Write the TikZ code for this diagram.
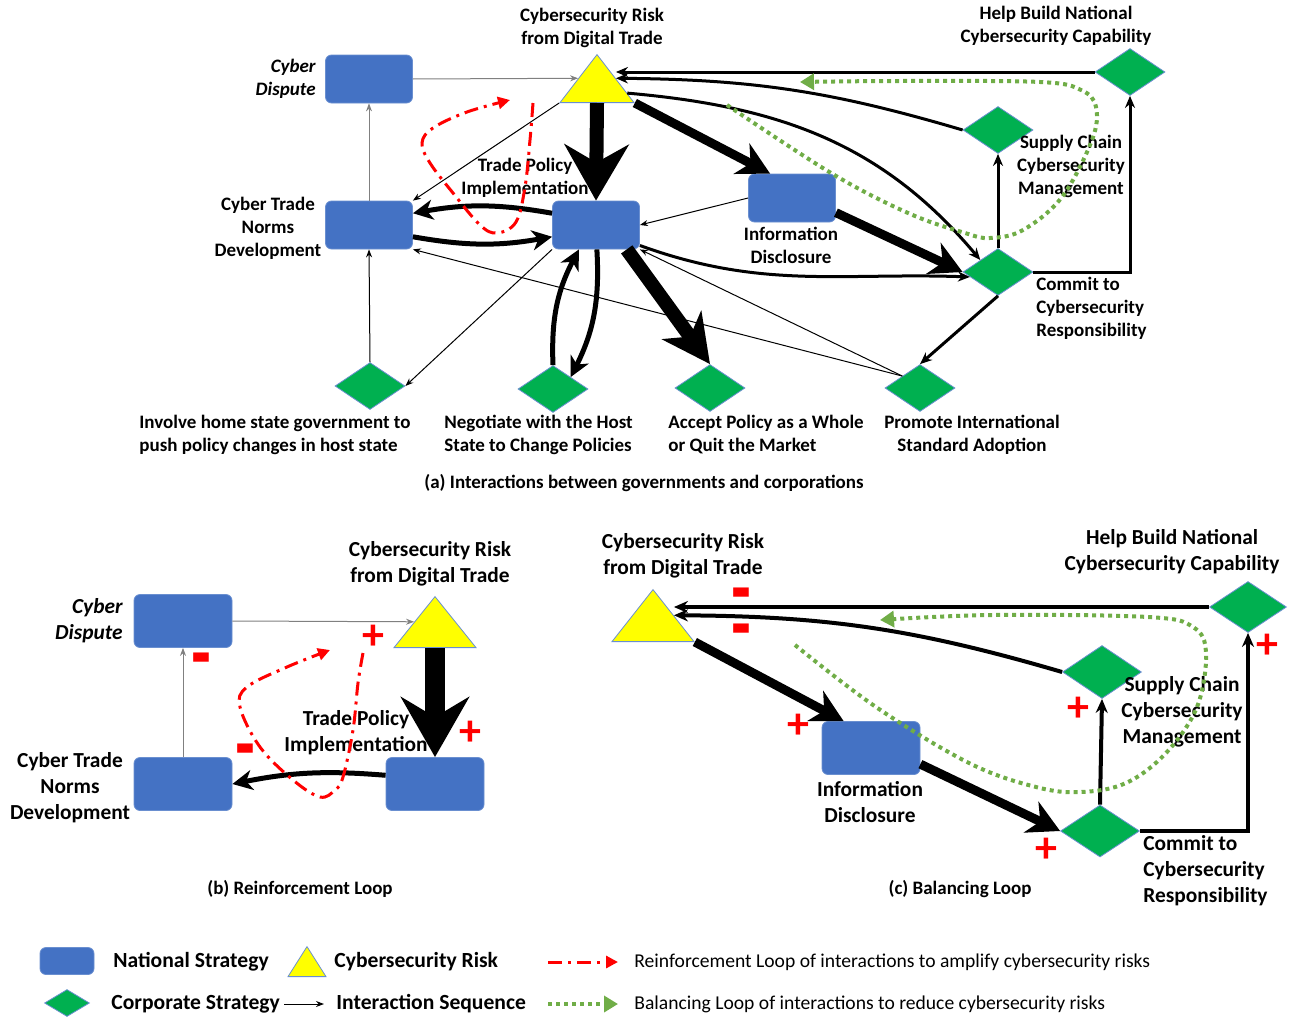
\documentclass[tikz,border=0pt]{standalone}
\usepackage{fontspec}
\setmainfont{Carlito}
\usepackage{xcolor}
\definecolor{natBlue}{HTML}{4472C4}
\definecolor{natEdge}{HTML}{6A8FD0}
\definecolor{corpGreen}{HTML}{00B050}
\definecolor{riskYellow}{HTML}{FFFF00}
\definecolor{loopRed}{HTML}{FF0000}
\definecolor{loopGreen}{HTML}{70AD47}
\usetikzlibrary{calc, positioning, arrows.meta, shapes.geometric}

\newcommand{\minussign}{\raisebox{-11.6pt}[3.4pt][0pt]{\scalebox{1}[2.4]{–}}}

\tikzset{
	font = \bfseries\fontsize{9.5}{11.5}\selectfont,
	natbox/.style={
		draw=natEdge,
		fill=natBlue,
		line width=.4pt,
		rounded corners=3pt,
		inner sep=0pt,
		minimum width=43.5pt,
		minimum height=24pt
	},
	bigbox/.style={
		minimum width=49pt,
		minimum height=26.5pt
	},
	risktri/.style={
		isosceles triangle,
		isosceles triangle stretches,
		shape border rotate=90,
		draw=natEdge,
		fill=riskYellow,
		line width=.4pt,
		inner sep=0pt,
		anchor=lower side
	},
	corpdia/.style={
		diamond,
		draw=natEdge,
		fill=corpGreen,
		line width=.4pt,
		inner sep=0pt,
		minimum width=35pt,
		minimum height=23.5pt
	},
	lbl/.style={align=center, inner sep=0pt},
	lblB/.style={lbl, font=\bfseries\fontsize{10.7}{13}\selectfont},
	keylbl/.style={lbl, anchor=west, font=\bfseries\fontsize{10.8}{13}\selectfont},
	keytxt/.style={lbl, anchor=west, font=\fontsize{9.8}{12}\selectfont},
	sign/.style={text=loopRed, inner sep=0pt, font=\bfseries\fontsize{22}{22}\selectfont},
	minus/.style={sign},
	thinG/.style={-{Stealth[length=4pt, width=3pt]}, draw=gray, line width=.5pt},
	thinK/.style={-{Stealth[length=4pt, width=3pt]}, line width=.5pt},
	medK/.style={-{Stealth[length=6pt, width=5pt]}, line width=1.5pt},
	medK2/.style={-{Stealth[length=7pt, width=6pt]}, line width=2pt},
	thickK/.style={-{Stealth[length=10pt, width=10pt, inset=3pt]}, line width=2.5pt},
	heavyK/.style={-{Stealth[length=16pt, width=17pt, inset=5pt]}, line width=4.5pt},
	hugeK/.style={-{Stealth[length=24pt, width=24pt, inset=7pt]}, line width=7pt},
	bigK/.style={-{Stealth[length=28pt, width=32pt, inset=9pt]}, line width=7pt},
	bigB/.style={-{Stealth[length=30pt, width=34pt, inset=10pt]}, line width=10pt},
	redLoop/.style={draw=loopRed, line width=1.5pt, dash pattern=on 7pt off 3pt on 1.5pt off 3pt, -{Triangle[length=6pt, width=6pt]}},
	greenLoop/.style={draw=loopGreen, line width=2pt, dash pattern=on 2pt off 2pt, -{Triangle[length=7pt, width=8pt]}}
}

\begin{document}
\begin{tikzpicture}[x=.5pt, y=-.5pt]
	\useasboundingbox (0,0) rectangle (1290,1017);

	% (a) interactions
	\node[natbox] (dA) at (369,79) {};
	\node[natbox] (nA) at (369,225) {};
	\node[natbox] (tA) at (596,225) {};
	\node[natbox] (iA) at (792,198) {};
	\node[risktri, minimum width=37pt, minimum height=24pt] (rA) at (597,103) {};
	\node[corpdia] (hA) at (1130,72) {};
	\node[corpdia] (sA) at (998,130) {};
	\node[corpdia] (cA) at (998,272) {};
	\node[corpdia] (vA) at (370,386) {};
	\node[corpdia] (gA) at (553,389) {};
	\node[corpdia] (aA) at (710,388) {};
	\node[corpdia] (pA) at (920,388) {};

	\node[lbl, anchor=east, font=\bfseries\itshape\fontsize{9.5}{11.5}\selectfont, align=right] (ldA) at (316,79) {Cyber\\Dispute};
	\node[lbl] (lrA) at (592,28) {Cybersecurity Risk\\from Digital Trade};
	\node[lbl] (lnA) at (268,228) {Cyber Trade\\Norms\\Development};
	\node[lbl] (ltA) at (525,178) {Trade Policy\\Implementation};
	\node[lbl] (liA) at (791,245) {Information\\Disclosure};
	\node[lbl] (lhA) at (1056,26) {Help Build National\\Cybersecurity Capability};
	\node[lbl] (lsA) at (1071,166) {Supply Chain\\Cybersecurity\\Management};
	\node[lbl, anchor=west, align=left] (lcA) at (1036,308) {Commit to\\Cybersecurity\\Responsibility};
	\node[lbl, anchor=west, align=left] (lvA) at (139,435) {Involve home state government to\\push policy changes in host state};
	\node[lbl, anchor=west, align=left] (lgA) at (444,435) {Negotiate with the Host\\State to Change Policies};
	\node[lbl, anchor=west, align=left] (laA) at (668,435) {Accept Policy as a Whole\\or Quit the Market};
	\node[lbl] (lpA) at (972,435) {Promote International\\Standard Adoption};
	\node[lbl] (capA) at (644,483) {(a) Interactions between governments and corporations};

	\draw[thinG] (dA.east) -- (rA.left side);
	\draw[thinG] (nA.north) -- (dA.south);
	\draw[thinK] (rA.left corner) -- (nA.north east);
	\draw[bigK] (rA.lower side) -- (tA.north);
	\draw[thickK] (tA.165) to[bend right=10] (nA.15);
	\draw[thickK] (nA.-15) to[bend right=10] (tA.195);
	\draw[thinK] (iA.west) -- (tA.east);
	\draw[heavyK] (rA.right corner) -- ([xshift=11pt]iA.north west);
	\draw[medK] (hA.west) -- (rA.right side |- hA.west);
	\draw[medK] (sA.west) to[bend right=8] (rA.right side);
	\draw[medK] ($(rA.right side)!.6!(rA.right corner)$) to[out=-5, in=130] (cA.north west);
	\draw[medK] (tA.-25) to[out=-20, in=178] (cA.190);
	\draw[heavyK] ($(iA.east)!.6!(iA.south east)$) -- (cA.west);
	\draw[medK] (cA.north) -- (sA.south);
	\draw[medK] (cA.east) -| (hA.south);
	\draw[medK] (cA.south) -- (pA.north);
	\draw[thinK] (pA.north west) -- (nA.south east);
	\draw[thinK] (pA.north west) -- (tA.south east);
	\draw[thinK] (tA.south west) -- (vA.east);
	\draw[thinK] (vA.north) -- (nA.south);
	\draw[thickK] (gA.north) to[bend left=15] (tA.-125);
	\draw[thickK] (tA.-88) to[bend left=15] (gA.north east);
	\draw[hugeK] ($(tA.south)!.7!(tA.south east)$) -- (aA.north);

	\draw[redLoop] plot[smooth, tension=.6] coordinates {(533,103) (530,140) (525,187) (516,222) (497,233) (480,225) (453,193) (430,163) (422,143) (433,128) (467,112) (510,100)};
	\draw[greenLoop] plot[smooth, tension=.6] coordinates {(727,105) (831,173) (908,213) (965,233) (990,238) (1023,230) (1062,197) (1092,140) (1096,107) (1081,90) (1040,82) (900,81) (800,82)};

	% (b) reinforcement loop
	\node[natbox, bigbox] (dB) at (183,621) {};
	\node[natbox, bigbox] (nB) at (183,784) {};
	\node[natbox, bigbox] (tB) at (435,784) {};
	\node[risktri, minimum width=41pt, minimum height=25.5pt] (rB) at (435,648) {};

	\node[lblB, anchor=east, font=\bfseries\itshape\fontsize{10.7}{13}\selectfont, align=right] (ldB) at (123,621) {Cyber\\Dispute};
	\node[lblB] (lrB) at (430,564) {Cybersecurity Risk\\from Digital Trade};
	\node[lblB] (lnB) at (70,788) {Cyber Trade\\Norms\\Development};
	\node[lblB] (ltB) at (356,733) {Trade Policy\\Implementation};
	\node[lbl] (capB) at (300,889) {(b) Reinforcement Loop};

	\draw[thinG] (dB.east) -- (rB.left side);
	\draw[thinG] (nB.north) -- (dB.south);
	\draw[bigB] (rB.lower side) -- (tB.north);
	\draw[thickK] (tB.170) to[bend right=8] (nB.east);
	\draw[redLoop] plot[smooth, tension=.6] coordinates {(363,653) (358,683) (353,730) (343,777) (335,790) (320,797) (293,780) (260,747) (240,707) (247,687) (287,667) (330,650)};

	\node[minus] (mB1) at (201,661) {\minussign};
	\node[sign] (pB1) at (373,637) {+};
	\node[sign] (pB2) at (470,733) {+};
	\node[minus] (mB2) at (245,752) {\minussign};

	% (c) balancing loop
	\node[natbox, bigbox] (iC) at (871,748) {};
	\node[risktri, minimum width=41pt, minimum height=26pt] (rC) at (653,642) {};
	\node[corpdia, minimum width=38.5pt, minimum height=25.5pt] (hC) at (1248,607) {};
	\node[corpdia, minimum width=39.5pt, minimum height=26.5pt] (sC) at (1102,672) {};
	\node[corpdia, minimum width=39.5pt, minimum height=26pt] (cC) at (1100,831) {};

	\node[lblB] (lrC) at (683,556) {Cybersecurity Risk\\from Digital Trade};
	\node[lblB] (liC) at (870,802) {Information\\Disclosure};
	\node[lblB] (lhC) at (1172,552) {Help Build National\\Cybersecurity Capability};
	\node[lblB] (lsC) at (1182,712) {Supply Chain\\Cybersecurity\\Management};
	\node[lblB, anchor=west, align=left] (lcC) at (1143,871) {Commit to\\Cybersecurity\\Responsibility};
	\node[lbl] (capC) at (960,889) {(c) Balancing Loop};

	\draw[medK2] (hC.west) -- (rC.right side |- hC.west);
	\draw[medK2] (sC.west) to[bend right=8] (rC.right side);
	\draw[heavyK] (rC.right corner) -- ([xshift=11pt]iC.north west);
	\draw[heavyK] ($(iC.east)!.6!(iC.south east)$) -- (cC.west);
	\draw[medK2] (cC.north) -- (sC.south);
	\draw[medK2] (cC.east) -| (hC.south);
	\draw[greenLoop] plot[smooth, tension=.6] coordinates {(795,645) (876,707) (969,763) (1036,787) (1081,792) (1126,783) (1166,753) (1197,707) (1206,653) (1193,627) (1148,617) (992,615) (880,620)};

	\node[minus] (mC1) at (741,596) {\minussign};
	\node[minus] (mC2) at (741,632) {\minussign};
	\node[sign] (pC1) at (798,726) {+};
	\node[sign] (pC2) at (1078,709) {+};
	\node[sign] (pC3) at (1046,850) {+};
	\node[sign] (pC4) at (1267,646) {+};

	% legend
	\node[natbox, minimum width=27pt, minimum height=13.5pt] (kNat) at (67,961) {};
	\node[keylbl] (tNat) at (113,962) {National Strategy};
	\node[risktri, minimum width=19pt, minimum height=15pt] (kRisk) at (307,977) {};
	\node[keylbl] (tRisk) at (334,962) {Cybersecurity Risk};
	\node[corpdia, minimum width=22.5pt, minimum height=13.5pt] (kCorp) at (67,1003) {};
	\node[keylbl] (tCorp) at (111,1004) {Corporate Strategy};
	\node[keylbl] (tSeq) at (336,1004) {Interaction Sequence};
	\node[keytxt] (tRed) at (634,962) {Reinforcement Loop of interactions to amplify cybersecurity risks};
	\node[keytxt] (tGreen) at (634,1004) {Balancing Loop of interactions to reduce cybersecurity risks};
	\coordinate (kRed) at (548,962);
	\coordinate (kGreen) at (548,1004);

	\draw[thinK] ([xshift=2pt]tCorp.east) -- ([xshift=-6pt]tSeq.west);
	\draw[redLoop] (kRed) -- ([xshift=-8pt]tRed.west);
	\draw[greenLoop] (kGreen) -- ([xshift=-8pt]tGreen.west);
\end{tikzpicture}
\end{document}
